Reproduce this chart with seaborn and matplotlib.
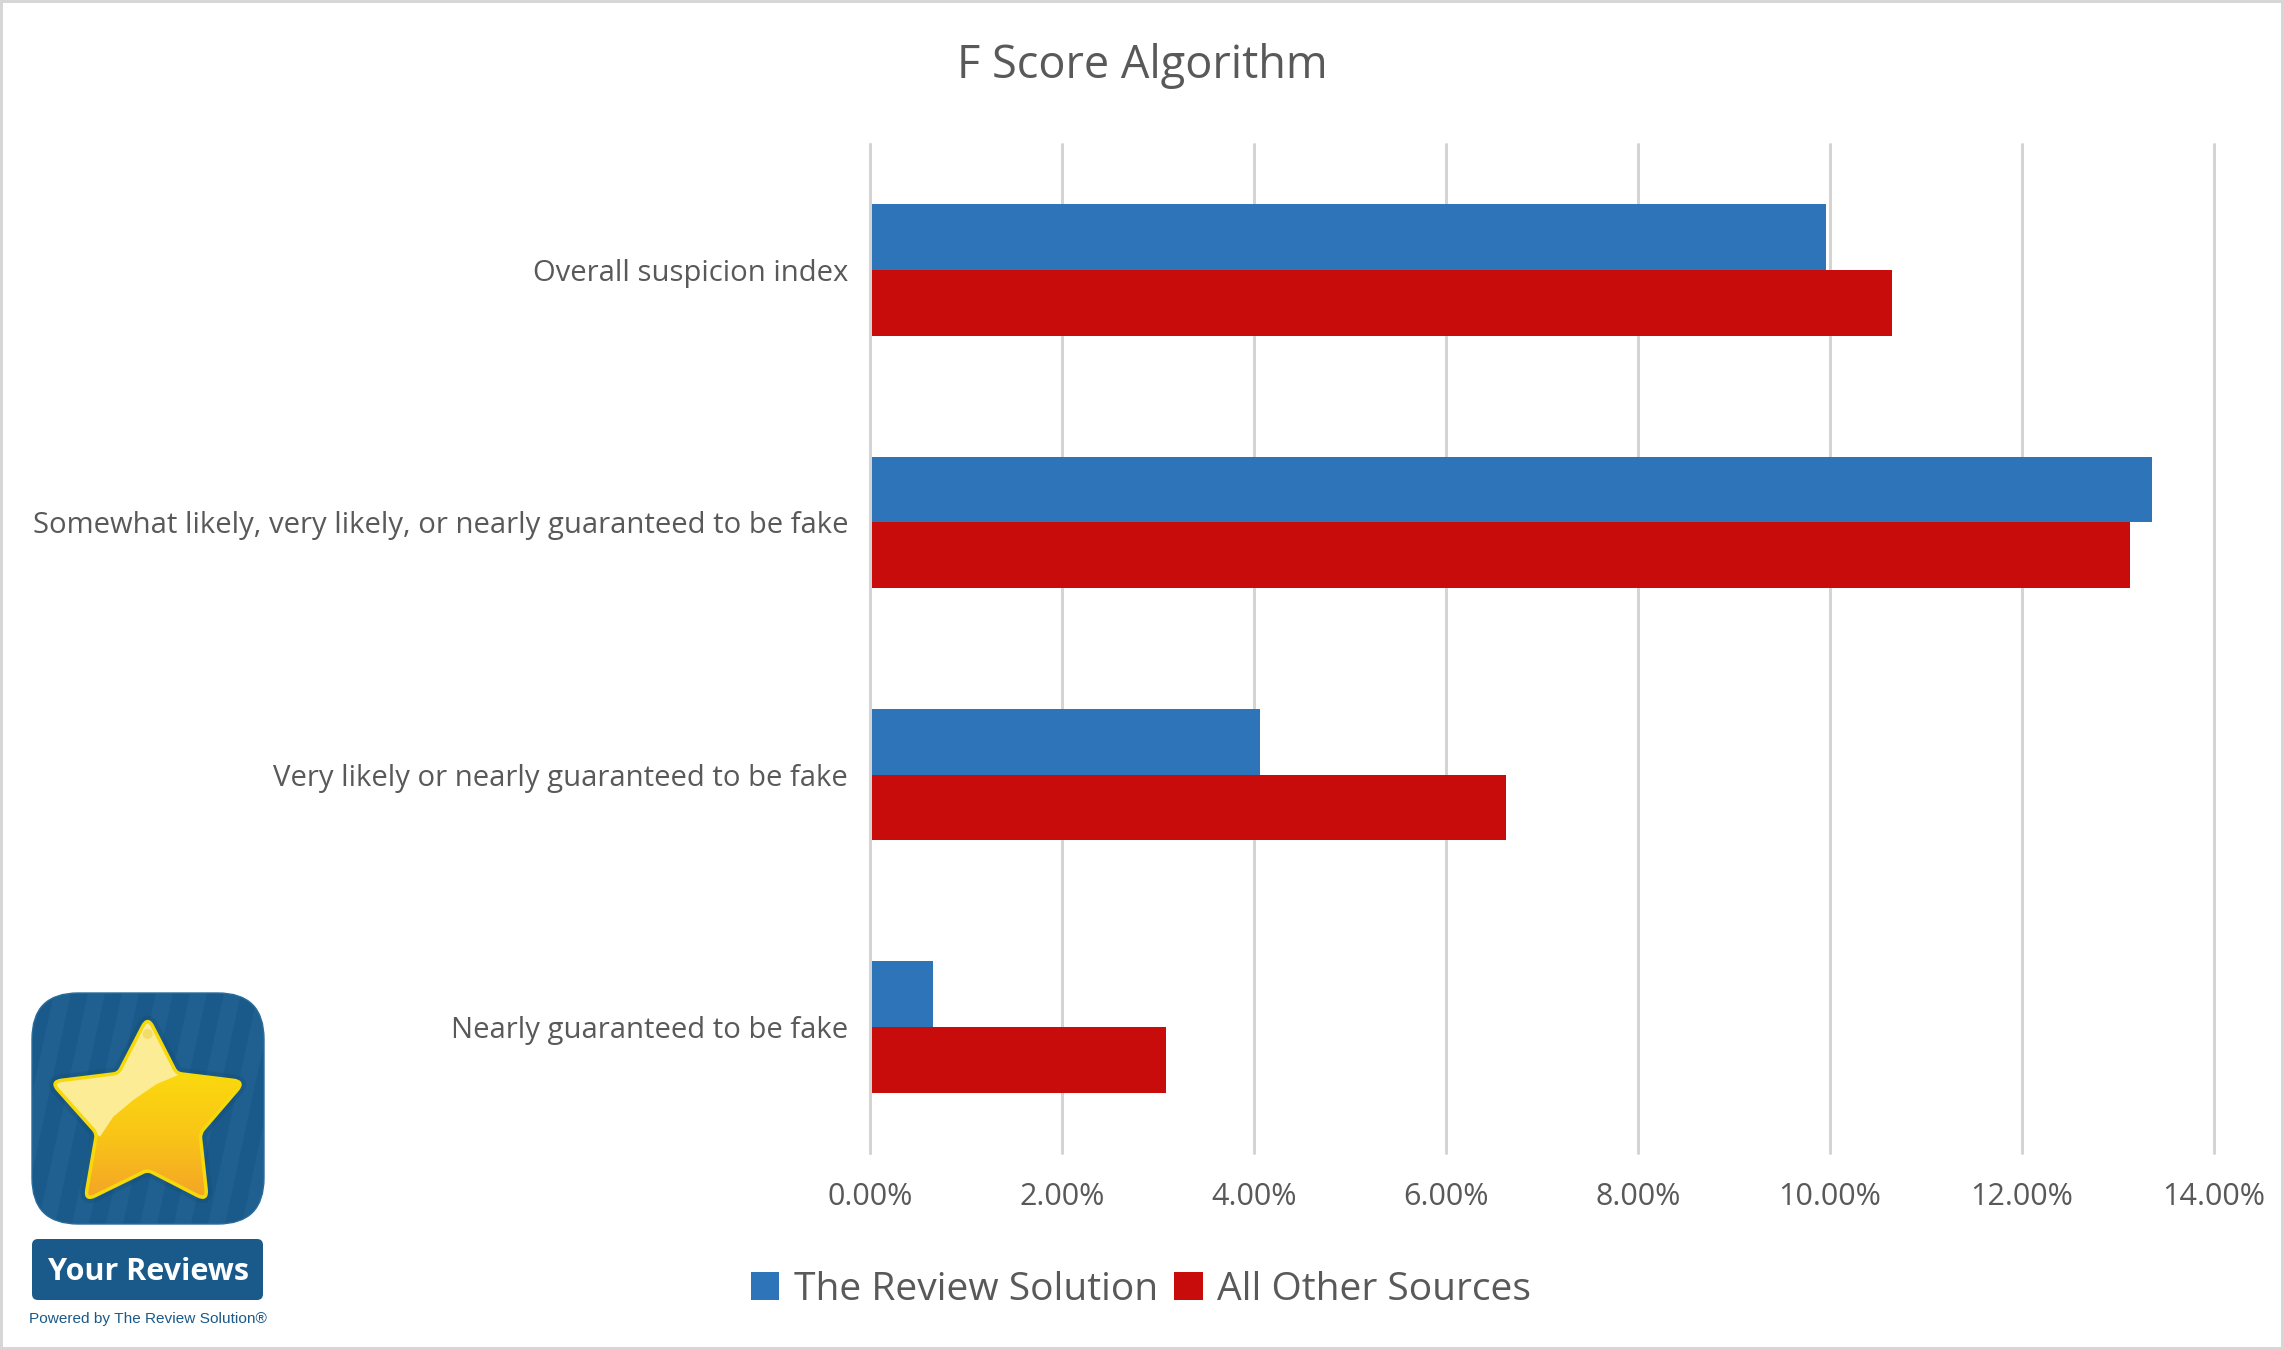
import numpy as np
import pandas as pd
import matplotlib
matplotlib.use("Agg")
import matplotlib.pyplot as plt
import seaborn as sns
from matplotlib.colors import LinearSegmentedColormap
from matplotlib.patches import Circle, FancyBboxPatch, PathPatch, Polygon, Rectangle
from matplotlib.path import Path
from matplotlib.ticker import PercentFormatter

W, H = 2284, 1350
TEXT = "#595959"
GRID = "#d4d4d4"

categories = [
    "Overall suspicion index",
    "Somewhat likely, very likely, or nearly guaranteed to be fake",
    "Very likely or nearly guaranteed to be fake",
    "Nearly guaranteed to be fake",
]
review_solution = [9.96, 13.35, 4.06, 0.66]
other_sources = [10.65, 13.13, 6.63, 3.08]
series_names = ["The Review Solution", "All Other Sources"]
series_colors = ["#2e74b8", "#c80c0c"]
x_ticks = [0, 2, 4, 6, 8, 10, 12, 14]


def px(v):
    # pixels to points at dpi 100
    return v * 72 / 100


def zoom_xy(points):
    # the logo crop was read at 3x, starting at y=960
    return [(x / 3, 960 + y / 3) for x, y in points]


def rounded_star(points, outer=11, inner=5):
    verts, codes = [], []
    n = len(points)
    for i, p in enumerate(points):
        p = np.array(p)
        d = outer if i % 2 == 0 else inner
        a = np.array(points[i - 1]) - p
        b = np.array(points[(i + 1) % n]) - p
        start = p + a / np.linalg.norm(a) * d
        end = p + b / np.linalg.norm(b) * d
        verts += [start, p, end]
        codes += [Path.MOVETO if i == 0 else Path.LINETO, Path.CURVE3, Path.CURVE3]
    verts.append(verts[0])
    codes.append(Path.CLOSEPOLY)
    return Path(verts, codes)


def draw_logo(fig):
    ax = fig.add_axes([0, 0, 1, 1], facecolor="none", zorder=5)

    tile = FancyBboxPatch((32, 993), 232, 231, boxstyle="round,pad=0,rounding_size=46",
                          fc="#1a5a8a", ec="#2a6c9a", lw=1)
    ax.add_patch(tile)

    # faint slanted stripes on the tile
    for x in np.arange(-10, 300, 34):
        s = Polygon([(x + 30, 993), (x + 47, 993), (x - 3, 1224), (x - 20, 1224)],
                    fc="#2b6f9f", ec="none", alpha=0.3)
        ax.add_patch(s)
        s.set_clip_path(tile)

    star_px = zoom_xy([(443, 170), (530, 340), (733, 365), (600, 520), (622, 722),
                       (443, 630), (255, 722), (290, 520), (152, 365), (355, 340)])
    star_path = rounded_star(star_px)
    ax.add_patch(PathPatch(star_path, fc="#14496f", ec="#14496f", lw=px(12),
                           joinstyle="round", alpha=0.3))
    star = PathPatch(star_path, fc="#f8c41a", ec="none", zorder=2)
    ax.add_patch(star)
    cmap = LinearSegmentedColormap.from_list("star", ["#fbd80f", "#f9c517", "#f4a626"])
    img = ax.imshow(np.linspace(0, 1, 200).reshape(-1, 1), cmap=cmap, aspect="auto",
                    extent=(50, 245, 1195, 1075), zorder=2)
    img.set_clip_path(star)

    shine_zoom = [(443, 150), (535, 345), (470, 372), (400, 420), (340, 470), (300, 530),
                  (130, 400), (130, 330), (355, 300)]
    shine = Polygon(zoom_xy(shine_zoom), fc="#fbec95", ec="none", zorder=3)
    ax.add_patch(shine)
    shine.set_clip_path(star)
    dot = Circle(zoom_xy([(443, 222)])[0], 5, fc="#f2dc6c", ec="none", zorder=3)
    ax.add_patch(dot)
    ax.add_patch(PathPatch(star_path, fc="none", ec="#f5d90a", lw=px(3.5),
                           joinstyle="round", zorder=4))

    ax.add_patch(FancyBboxPatch((32, 1239), 231, 61, boxstyle="round,pad=0,rounding_size=6",
                                fc="#1a5a8a", ec="none"))
    ax.text(148, 1272, "Your Reviews", color="white", fontsize=22, fontweight="bold",
            ha="center", va="center", family="Open Sans")
    ax.text(148, 1319, "Powered by The Review Solution®", color="#1a5a8a", fontsize=11.1,
            ha="center", va="center", family="Liberation Sans")

    ax.set_xlim(0, W)
    ax.set_ylim(H, 0)
    ax.axis("off")


def main():
    df = pd.DataFrame({
        "category": categories * 2,
        "value": review_solution + other_sources,
        "series": [series_names[0]] * 4 + [series_names[1]] * 4,
    })

    sns.set_style("white")
    plt.rcParams["font.family"] = ["Open Sans", "DejaVu Sans"]

    fig = plt.figure(figsize=(W / 100, H / 100), dpi=100, facecolor="white")
    ax = fig.add_axes([870 / W, 1 - 1153 / H, (2214 - 870) / W, (1153 - 144) / H])

    sns.barplot(data=df, y="category", x="value", hue="series", palette=series_colors,
                width=0.521, gap=0, saturation=1, linewidth=0, ax=ax, zorder=3)

    ax.set_xlim(0, 14)
    ax.set_ylim(3.5, -0.5)
    ax.set_xlabel("")
    ax.set_ylabel("")
    ax.set_xticks(x_ticks)
    ax.xaxis.set_major_formatter(PercentFormatter(decimals=2))
    ax.grid(axis="x", color=GRID, lw=px(3), zorder=0)
    ax.set_axisbelow(True)
    # the zero line runs along the front of the bars
    ax.axvline(0, color=GRID, lw=px(3), zorder=4, clip_on=False)
    sns.despine(ax=ax, left=True, bottom=True, top=True, right=True)
    ax.tick_params(axis="x", length=0, pad=px(29), labelsize=22, labelcolor=TEXT)
    ax.tick_params(axis="y", length=0, pad=px(22), labelsize=21.1, labelcolor=TEXT)
    # the gridlines at both ends sit half outside the axes
    for g in ax.get_xgridlines():
        g.set_clip_on(False)

    handles, labels = ax.get_legend_handles_labels()
    ax.legend(handles, labels, ncol=2, loc="center", frameon=False, fontsize=28.1,
              labelcolor=TEXT, bbox_to_anchor=(1141 / W, 1 - 1290 / H),
              bbox_transform=fig.transFigure, handlelength=0.74, handleheight=0.72,
              handletextpad=0.37, columnspacing=0.41, borderpad=0, borderaxespad=0)

    fig.text(0.5, 1 - 66 / H, "F Score Algorithm", color=TEXT, fontsize=32.5,
             ha="center", va="center")

    draw_logo(fig)

    # thin grey frame around the whole picture
    fig.add_artist(Rectangle((0, 0), 1, 1, transform=fig.transFigure, fill=False,
                             ec="#d6d6d6", lw=px(6)))

    fig.savefig("out.png", dpi=100)


if __name__ == "__main__":
    main()
